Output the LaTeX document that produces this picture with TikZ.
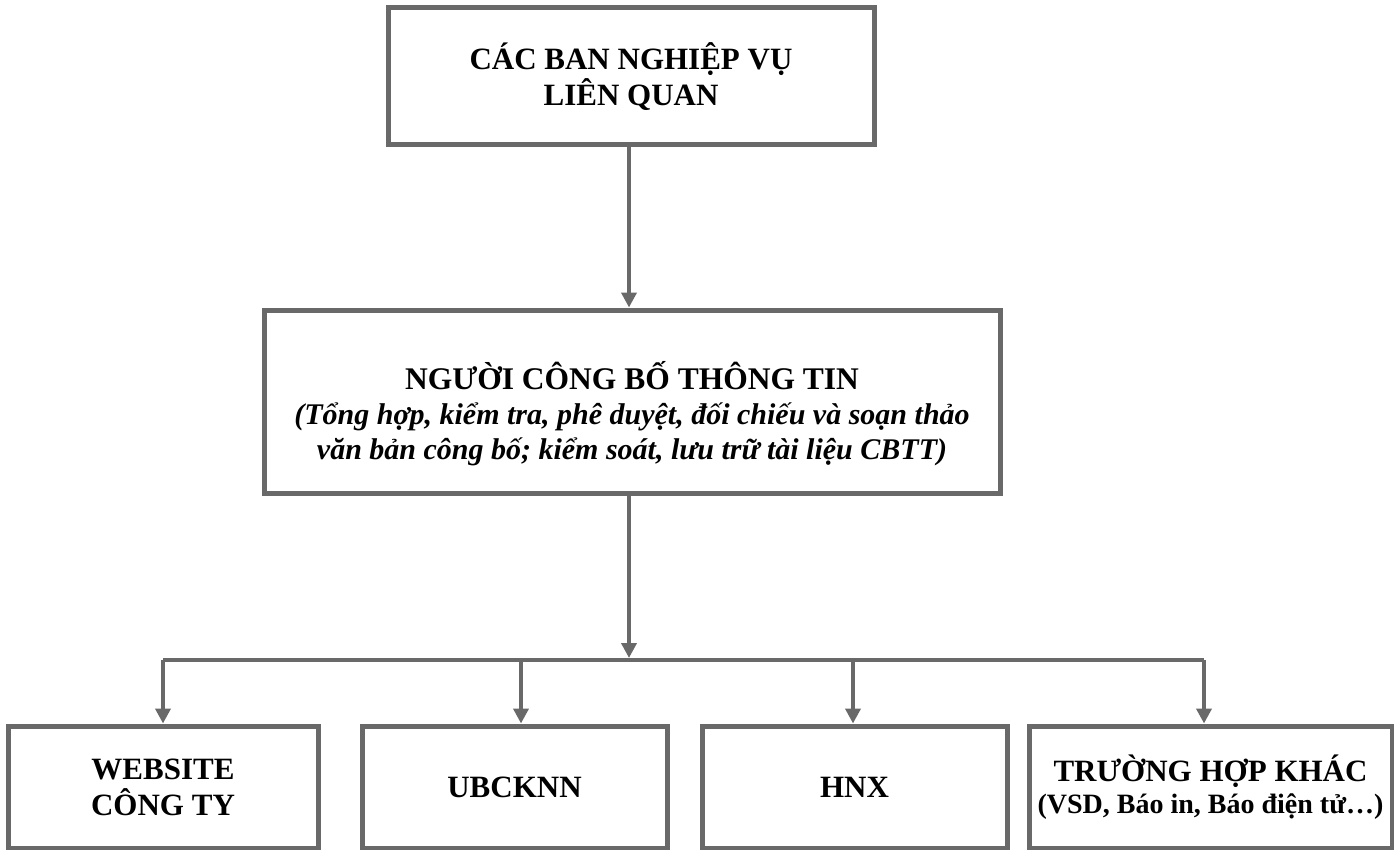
\documentclass[tikz,border=0pt]{standalone}
\usepackage{fontspec}
\setmainfont{Liberation Serif}
\usetikzlibrary{arrows.meta}
\definecolor{linegray}{RGB}{105,105,105}
\tikzset{
  box/.style={draw=linegray, line width=5pt, fill=white, rectangle, align=center, inner sep=0pt, text=black, font=\bfseries\fontsize{31}{36}\selectfont},
  boxtext/.style={align=center, inner sep=0pt, text=black, font=\bfseries\fontsize{31.5}{36}\selectfont},
  arr/.style={draw=linegray, line width=4pt, -{Triangle[width=15pt,length=15pt]}},
  bus/.style={draw=linegray, line width=4pt}
}
\begin{document}
\begin{tikzpicture}[x=1pt,y=-1pt]
\useasboundingbox[fill=white] (0,0) rectangle (1394,850);
\node[box, minimum width=486pt, minimum height=137pt] (top) at (631,76.5) {CÁC BAN NGHIỆP VỤ\\LIÊN QUAN};
\node[box, minimum width=736pt, minimum height=183pt] (mid) at (632,401.5) {};
\node[boxtext] (midtxt) at ([yshift=-12pt]mid.center) {NGƯỜI CÔNG BỐ THÔNG TIN\\[-1pt]
{\bfseries\itshape\fontsize{30}{34}\selectfont (Tổng hợp, kiểm tra, phê duyệt, đối chiếu và soạn thảo}\\[-1pt]
{\bfseries\itshape\fontsize{30}{34}\selectfont văn bản công bố; kiểm soát, lưu trữ tài liệu CBTT)}};
\node[box, minimum width=310pt, minimum height=122pt] (b1) at (163,787) {WEBSITE\\CÔNG TY};
\node[box, minimum width=305pt, minimum height=122pt] (b2) at (514.5,787) {UBCKNN};
\node[box, minimum width=305pt, minimum height=122pt] (b3) at (854.5,787) {HNX};
\node[box, minimum width=363pt, minimum height=122pt] (b4) at (1210.5,787) {TRƯỜNG HỢP KHÁC\\[-4pt]{\fontsize{28}{32}\selectfont (VSD, Báo in, Báo điện tử…)}};
\coordinate (busL) at (163,660);
\coordinate (busR) at (1204,660);
\coordinate (busM) at (629,660);
\draw[bus] (busL) -- (busR);
\draw[arr] (top.south -| busM) -- (mid.north -| busM);
\draw[arr] (mid.south -| busM) -- ([yshift=2pt]busM);
\draw[arr] (busL) -- (b1.north);
\draw[arr] ([xshift=6.5pt]b2.north |- busL) -- ([xshift=6.5pt]b2.north);
\draw[arr] ([xshift=-1.5pt]b3.north |- busL) -- ([xshift=-1.5pt]b3.north);
\draw[arr] (busR) -- (busR |- b4.north);
\end{tikzpicture}
\end{document}
